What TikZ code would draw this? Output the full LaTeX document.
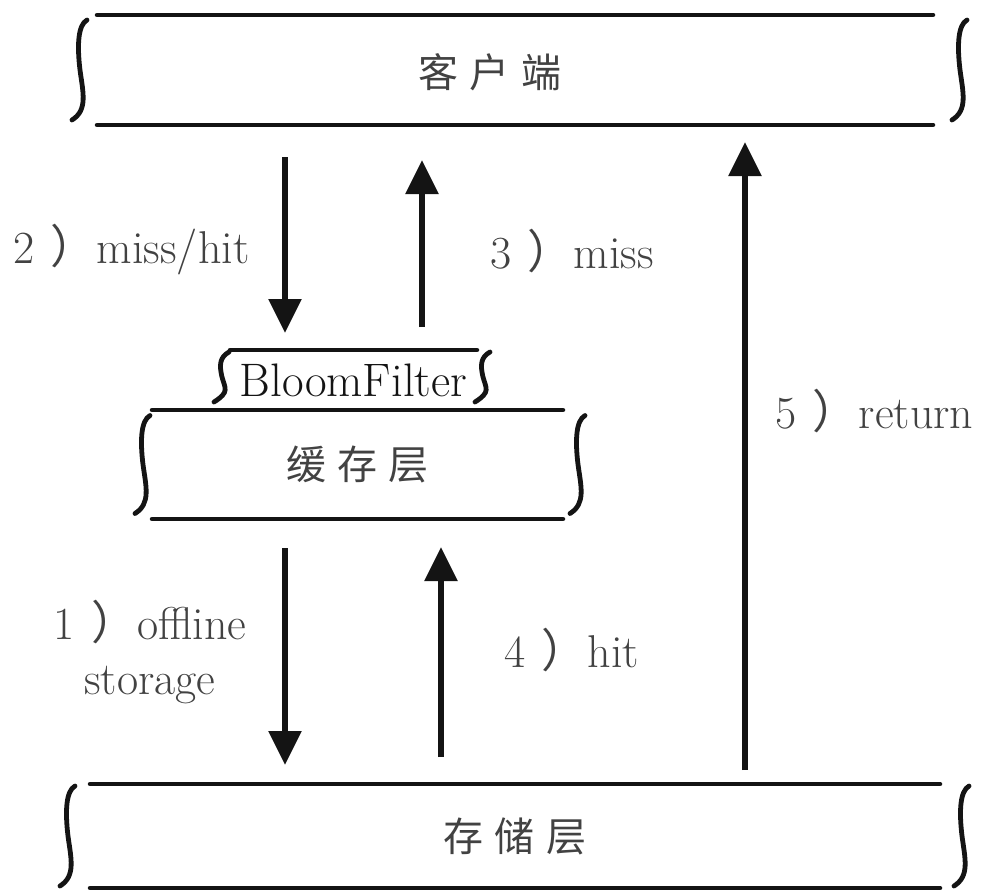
\documentclass[tikz,border=0pt]{standalone}
\usepackage{fontspec}
\newfontfamily\cjk{Noto Sans CJK SC}
\newfontfamily\layerfont[LetterSpace=28]{Noto Sans CJK SC}
\usetikzlibrary{arrows.meta,positioning,calc}
\colorlet{inkBlack}{black!92}
\colorlet{inkGray}{black!74}
\newcommand{\stepmark}[1]{#1\hspace{0.36em}{\cjk）}}
\tikzset{
  layer/.style={
    rectangle,
    inner sep=0pt,
    outer sep=0pt,
    minimum height=#1,
    font=\layerfont\fontsize{40}{44}\selectfont,
    text=inkGray
  },
  layer/.default=110pt,
  bar/.style={
    line width=4.5pt,
    line cap=round,
    draw=inkBlack
  },
  flow/.style={
    -{Triangle[length=34pt,width=32pt]},
    line width=5.5pt,
    draw=inkBlack
  },
  lab/.style={
    font=\fontsize{46}{55}\selectfont,
    text=inkGray,
    inner sep=0pt,
    align=center
  },
  % hand-drawn side curl of a layer, #1 = half height
  pics/curl/.style={code={
    \draw[line width=4.8pt, line cap=round, draw=inkBlack]
      (7,-#1) .. controls (-2,-#1+5) and (-3,-0.5*#1) .. (0,0)
      .. controls (3,0.45*#1) and (8,#1-10) .. (-8,#1);
  }}
}

\begin{document}
\begin{tikzpicture}[x=1pt,y=-1pt]
\useasboundingbox (0,0) rectangle (987,892);

% layers
\node[layer=110pt, minimum width=836pt] (client) at (515,70) {};
\node[layer] (clientname) at (490,72) {客户端};
\node[layer=60pt, minimum width=247pt, font=\fontsize{47}{50}\selectfont, text=inkBlack] (bloom) at (353.5,380) {BloomFilter};
\node[layer=109pt, minimum width=411pt] (cache) at (357.5,464.5) {缓存层};
\node[layer=104pt, minimum width=850pt] (storage) at (515,836) {存储层};

\foreach \lay in {client,cache,storage}{
  \draw[bar] (\lay.north west) -- (\lay.north east);
  \draw[bar] (\lay.south west) -- (\lay.south east);
}
\draw[bar] (bloom.north west) -- (bloom.north east);

\pic at ([xshift=-17pt]client.west) {curl=50};
\pic at ([xshift=27pt]client.east) {curl=50};
\pic at ([xshift=-8pt,yshift=3pt]bloom.west) {curl=25};
\pic at ([xshift=6pt,yshift=3pt]bloom.east) {curl=25};
\pic at ([xshift=-9pt]cache.west) {curl=49};
\pic at ([xshift=15pt]cache.east) {curl=49};
\pic at ([xshift=-22pt]storage.west) {curl=50};
\pic at ([xshift=22pt]storage.east) {curl=50};

% lanes of the arrows
\coordinate (lanedown) at (285,0);
\coordinate (lanemiss) at (422,0);
\coordinate (lanehit) at (441,0);
\coordinate (lanereturn) at (745,0);

\draw[flow, shorten <=32pt, shorten >=17pt] (lanedown |- client.south) -- (lanedown |- bloom.north);
\draw[flow, shorten <=23pt, shorten >=35pt] (lanemiss |- bloom.north) -- (lanemiss |- client.south);
\draw[flow, shorten <=29pt, shorten >=19pt] (lanedown |- cache.south) -- (lanedown |- storage.north);
\draw[flow, shorten <=27pt, shorten >=28pt] (lanehit |- storage.north) -- (lanehit |- cache.south);
\draw[flow, shorten <=14pt, shorten >=17pt] (lanereturn |- storage.north) -- (lanereturn |- client.south);

% step labels
\node[lab, anchor=base west] (missorhit) at (13,263) {\stepmark{2}miss/hit};
\node[lab, anchor=base west] (miss) at (490,268) {\stepmark{3}miss};
\node[lab] (offline) at (150,652) {\stepmark{1}offline\\storage};
\node[lab, anchor=base west] (hit) at (504,667) {\stepmark{4}hit};
\node[lab, anchor=base west] (return) at (775,428) {\stepmark{5}return};

\end{tikzpicture}
\end{document}
